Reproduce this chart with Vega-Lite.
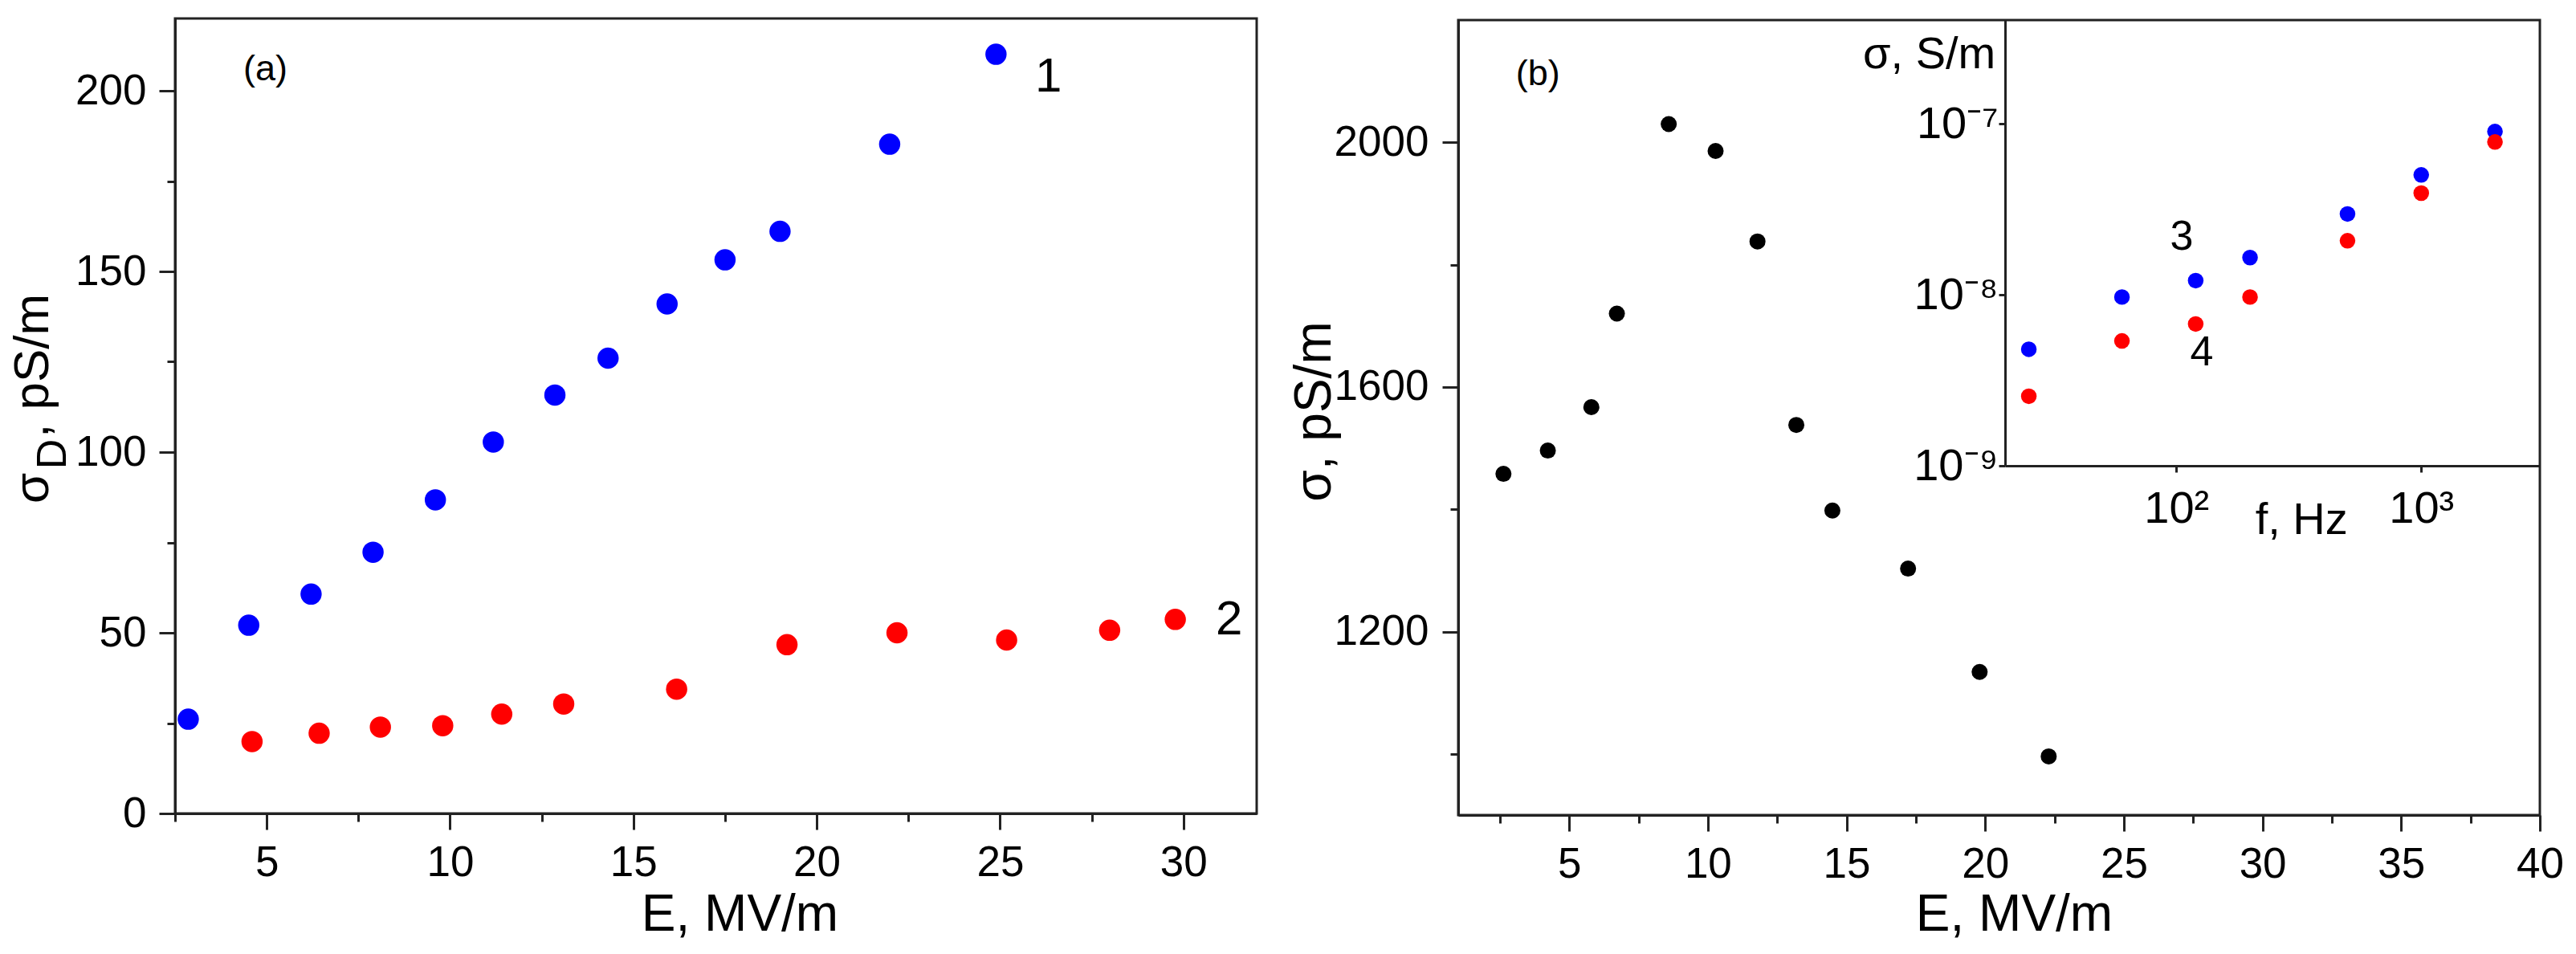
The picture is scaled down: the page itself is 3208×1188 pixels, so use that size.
{
  "$schema": "https://vega.github.io/schema/vega-lite/v6.json",
  "width": 3208,
  "height": 1188,
  "autosize": {"type": "none"},
  "padding": 0,
  "background": "white",
  "config": {
    "view": {"stroke": null},
    "axis": {"grid": false, "labelFont": "Liberation Sans", "titleFont": "Liberation Sans", "domainColor": "#222", "tickColor": "#222", "domainWidth": 3, "tickWidth": 3, "labelColor": "#000", "titleColor": "#000", "labelOverlap": false, "labelFlush": false, "titleFontWeight": "normal"},
    "text": {"font": "Liberation Sans", "color": "#000"}
  },
  "datasets": {
    "a_pts": [
      {"E": 2.86, "sigma": 26.1, "series": "1"},
      {"E": 4.51, "sigma": 52.1, "series": "1"},
      {"E": 6.21, "sigma": 60.7, "series": "1"},
      {"E": 7.90, "sigma": 72.3, "series": "1"},
      {"E": 9.60, "sigma": 86.8, "series": "1"},
      {"E": 11.18, "sigma": 102.8, "series": "1"},
      {"E": 12.86, "sigma": 115.8, "series": "1"},
      {"E": 14.31, "sigma": 126.0, "series": "1"},
      {"E": 15.92, "sigma": 141.0, "series": "1"},
      {"E": 17.50, "sigma": 153.2, "series": "1"},
      {"E": 19.00, "sigma": 161.1, "series": "1"},
      {"E": 21.99, "sigma": 185.2, "series": "1"},
      {"E": 24.89, "sigma": 210.1, "series": "1"},
      {"E": 4.60, "sigma": 19.9, "series": "2"},
      {"E": 6.43, "sigma": 22.2, "series": "2"},
      {"E": 8.10, "sigma": 23.9, "series": "2"},
      {"E": 9.80, "sigma": 24.3, "series": "2"},
      {"E": 11.41, "sigma": 27.5, "series": "2"},
      {"E": 13.10, "sigma": 30.3, "series": "2"},
      {"E": 16.18, "sigma": 34.4, "series": "2"},
      {"E": 19.19, "sigma": 46.7, "series": "2"},
      {"E": 22.19, "sigma": 50.0, "series": "2"},
      {"E": 25.18, "sigma": 48.0, "series": "2"},
      {"E": 27.99, "sigma": 50.7, "series": "2"},
      {"E": 29.78, "sigma": 53.7, "series": "2"}
    ],
    "a_frame": [{"x0": 2.5, "x1": 32, "y0": 0, "y1": 220}],
    "a_tag": [{"E": 4.36, "sigma": 202.9, "t": "(a)"}],
    "a_num": [{"E": 26.32, "sigma": 199.8, "t": "1"}, {"E": 31.25, "sigma": 49.6, "t": "2"}],
    "a_title_main": [{"E": -0.962, "sigma": 85.8, "t": "σ"}, {"E": -0.962, "sigma": 104.0, "t": ", pS/m"}],
    "a_title_sub": [{"E": -0.48, "sigma": 95.3, "t": "D"}],
    "b_pts": [
      {"E": 2.63, "sigma": 1458},
      {"E": 4.23, "sigma": 1496},
      {"E": 5.80, "sigma": 1567},
      {"E": 6.72, "sigma": 1720},
      {"E": 8.59, "sigma": 2030},
      {"E": 10.28, "sigma": 1986},
      {"E": 11.79, "sigma": 1838},
      {"E": 13.19, "sigma": 1538},
      {"E": 14.49, "sigma": 1398},
      {"E": 17.22, "sigma": 1303},
      {"E": 19.80, "sigma": 1134},
      {"E": 22.29, "sigma": 996}
    ],
    "b_frame": [{"x0": 1, "x1": 40, "y0": 900, "y1": 2200}],
    "b_tag": [{"E": 3.08, "sigma": 2093.7, "t": "(b)"}],
    "c_pts": [
      {"f": 25, "s": 4.8e-9, "series": "3"},
      {"f": 60, "s": 9.7e-9, "series": "3"},
      {"f": 120, "s": 1.21e-8, "series": "3"},
      {"f": 200, "s": 1.65e-8, "series": "3"},
      {"f": 500, "s": 2.97e-8, "series": "3"},
      {"f": 1000, "s": 5.02e-8, "series": "3"},
      {"f": 2000, "s": 9.0e-8, "series": "3"},
      {"f": 25, "s": 2.55e-9, "series": "4"},
      {"f": 60, "s": 5.37e-9, "series": "4"},
      {"f": 120, "s": 6.75e-9, "series": "4"},
      {"f": 200, "s": 9.7e-9, "series": "4"},
      {"f": 500, "s": 2.07e-8, "series": "4"},
      {"f": 1000, "s": 3.93e-8, "series": "4"},
      {"f": 2000, "s": 7.82e-8, "series": "4"}
    ],
    "c_num": [{"f": 105.3, "s": 1.83e-8, "t": "3"}, {"f": 127, "s": 3.87e-9, "t": "4"}],
    "c_ytitle": [{"f": 18.3, "s": 2.11e-7, "t": "σ, S/m"}],
    "c_xtitle": [{"f": 324.6, "s": 3.99e-10, "t": "f, Hz"}]
  },
  "layer": [
    {
      "layer": [
        {
          "data": {"name": "a_frame"},
          "mark": {"type": "rect", "filled": false, "stroke": "#222", "strokeWidth": 3},
          "encoding": {
            "x": {"field": "x0", "type": "quantitative", "scale": {"domain": [2.5, 32], "range": [218, 1565], "nice": false, "zero": false},
              "axis": {"orient": "bottom", "offset": -175, "values": [2.5, 5, 7.5, 10, 12.5, 15, 17.5, 20, 22.5, 25, 27.5, 30], "labelExpr": "datum.value % 5 === 0 ? format(datum.value, 'd') : ''", "tickSize": {"condition": {"test": "datum.value % 5 === 0", "value": 20}, "value": 10}, "labelFontSize": 53, "labelPadding": 15, "title": "E, MV/m", "titleFontSize": 64, "titleX": 921, "titleY": 145, "titleBaseline": "alphabetic", "titleAlign": "center", "titleAnchor": "middle"}},
            "x2": {"field": "x1"},
            "y": {"field": "y0", "type": "quantitative", "scale": {"domain": [0, 220], "range": [1013, 23], "nice": false, "zero": false},
              "axis": {"orient": "left", "offset": -218, "values": [0, 25, 50, 75, 100, 125, 150, 175, 200], "labelExpr": "datum.value % 50 === 0 ? format(datum.value, 'd') : ''", "tickSize": {"condition": {"test": "datum.value % 50 === 0", "value": 20}, "value": 10}, "labelFontSize": 53, "labelPadding": 16, "title": null}},
            "y2": {"field": "y1"}
          }
        },
        {
          "data": {"name": "a_pts"},
          "mark": {"type": "circle", "size": 700, "opacity": 1},
          "encoding": {
            "x": {"field": "E", "type": "quantitative", "scale": {"domain": [2.5, 32], "range": [218, 1565], "nice": false, "zero": false}},
            "y": {"field": "sigma", "type": "quantitative", "scale": {"domain": [0, 220], "range": [1013, 23], "nice": false, "zero": false}},
            "color": {"field": "series", "type": "nominal", "scale": {"domain": ["1", "2", "3", "4"], "range": ["#0000ff", "#ff0000", "#0000ff", "#ff0000"]}, "legend": null}
          }
        },
        {
          "data": {"name": "a_tag"},
          "mark": {"type": "text", "fontSize": 45, "align": "left", "baseline": "alphabetic"},
          "encoding": {
            "x": {"field": "E", "type": "quantitative", "scale": {"domain": [2.5, 32], "range": [218, 1565], "nice": false, "zero": false}},
            "y": {"field": "sigma", "type": "quantitative", "scale": {"domain": [0, 220], "range": [1013, 23], "nice": false, "zero": false}},
            "text": {"field": "t"}
          }
        },
        {
          "data": {"name": "a_num"},
          "mark": {"type": "text", "fontSize": 60, "align": "center", "baseline": "alphabetic"},
          "encoding": {
            "x": {"field": "E", "type": "quantitative", "scale": {"domain": [2.5, 32], "range": [218, 1565], "nice": false, "zero": false}},
            "y": {"field": "sigma", "type": "quantitative", "scale": {"domain": [0, 220], "range": [1013, 23], "nice": false, "zero": false}},
            "text": {"field": "t"}
          }
        },
        {
          "data": {"name": "a_title_main"},
          "mark": {"type": "text", "fontSize": 62, "align": "left", "baseline": "alphabetic", "angle": 270},
          "encoding": {
            "x": {"field": "E", "type": "quantitative", "scale": {"domain": [2.5, 32], "range": [218, 1565], "nice": false, "zero": false}},
            "y": {"field": "sigma", "type": "quantitative", "scale": {"domain": [0, 220], "range": [1013, 23], "nice": false, "zero": false}},
            "text": {"field": "t"}
          }
        },
        {
          "data": {"name": "a_title_sub"},
          "mark": {"type": "text", "fontSize": 52, "align": "left", "baseline": "alphabetic", "angle": 270},
          "encoding": {
            "x": {"field": "E", "type": "quantitative", "scale": {"domain": [2.5, 32], "range": [218, 1565], "nice": false, "zero": false}},
            "y": {"field": "sigma", "type": "quantitative", "scale": {"domain": [0, 220], "range": [1013, 23], "nice": false, "zero": false}},
            "text": {"field": "t"}
          }
        }
      ]
    },
    {
      "layer": [
        {
          "data": {"name": "b_frame"},
          "mark": {"type": "rect", "filled": false, "stroke": "#222", "strokeWidth": 3},
          "encoding": {
            "x": {"field": "x0", "type": "quantitative", "scale": {"domain": [1, 40], "range": [1816, 3163], "nice": false, "zero": false},
              "axis": {"orient": "bottom", "offset": -173, "values": [2.5, 5, 7.5, 10, 12.5, 15, 17.5, 20, 22.5, 25, 27.5, 30, 32.5, 35, 37.5, 40], "labelExpr": "datum.value % 5 === 0 ? format(datum.value, 'd') : ''", "tickSize": {"condition": {"test": "datum.value % 5 === 0", "value": 20}, "value": 10}, "labelFontSize": 53, "labelPadding": 15, "title": "E, MV/m", "titleFontSize": 64, "titleX": 2508, "titleY": 143, "titleBaseline": "alphabetic", "titleAlign": "center", "titleAnchor": "middle"}},
            "x2": {"field": "x1"},
            "y": {"field": "y0", "type": "quantitative", "scale": {"domain": [900, 2200], "range": [1015, 25], "nice": false, "zero": false},
              "axis": {"orient": "left", "offset": -1816, "values": [1000, 1200, 1400, 1600, 1800, 2000], "labelExpr": "datum.value % 400 === 0 ? format(datum.value, 'd') : ''", "tickSize": {"condition": {"test": "datum.value % 400 === 0", "value": 20}, "value": 10}, "labelFontSize": 53, "labelPadding": 17, "title": "σ,  pS/m", "titleFontSize": 64, "titleAngle": 270, "titleX": -160, "titleY": 512, "titleBaseline": "alphabetic", "titleAlign": "center", "titleAnchor": "middle"}},
            "y2": {"field": "y1"}
          }
        },
        {
          "data": {"name": "b_pts"},
          "mark": {"type": "circle", "size": 400, "opacity": 1, "color": "#000"},
          "encoding": {
            "x": {"field": "E", "type": "quantitative", "scale": {"domain": [1, 40], "range": [1816, 3163], "nice": false, "zero": false}},
            "y": {"field": "sigma", "type": "quantitative", "scale": {"domain": [900, 2200], "range": [1015, 25], "nice": false, "zero": false}}
          }
        },
        {
          "data": {"name": "b_tag"},
          "mark": {"type": "text", "fontSize": 45, "align": "left", "baseline": "alphabetic"},
          "encoding": {
            "x": {"field": "E", "type": "quantitative", "scale": {"domain": [1, 40], "range": [1816, 3163], "nice": false, "zero": false}},
            "y": {"field": "sigma", "type": "quantitative", "scale": {"domain": [900, 2200], "range": [1015, 25], "nice": false, "zero": false}},
            "text": {"field": "t"}
          }
        }
      ]
    },
    {
      "layer": [
        {
          "data": {"name": "c_pts"},
          "mark": {"type": "circle", "size": 380, "opacity": 1},
          "encoding": {
            "x": {"field": "f", "type": "quantitative", "scale": {"type": "log", "domain": [20, 3050], "range": [2497, 3163], "nice": false},
              "axis": {"orient": "bottom", "offset": -608, "values": [100, 1000], "labelExpr": "datum.value === 100 ? '10²' : '10³'", "tickSize": 8, "labelFontSize": 56, "labelPadding": 18, "title": null}},
            "y": {"field": "s", "type": "quantitative", "scale": {"type": "log", "domain": [1e-9, 4.04e-7], "range": [580, 25], "nice": false},
              "axis": {"orient": "left", "offset": -2497, "values": [1e-9, 1e-8, 1e-7], "labelExpr": "datum.value < 5e-9 ? '10⁻⁹' : (datum.value < 5e-8 ? '10⁻⁸' : '10⁻⁷')", "tickSize": 8, "labelFontSize": 56, "labelPadding": 1, "title": null}},
            "color": {"field": "series", "type": "nominal", "scale": {"domain": ["1", "2", "3", "4"], "range": ["#0000ff", "#ff0000", "#0000ff", "#ff0000"]}, "legend": null}
          }
        },
        {
          "data": {"name": "c_num"},
          "mark": {"type": "text", "fontSize": 52, "align": "center", "baseline": "alphabetic"},
          "encoding": {
            "x": {"field": "f", "type": "quantitative", "scale": {"type": "log", "domain": [20, 3050], "range": [2497, 3163], "nice": false}},
            "y": {"field": "s", "type": "quantitative", "scale": {"type": "log", "domain": [1e-9, 4.04e-7], "range": [580, 25], "nice": false}},
            "text": {"field": "t"}
          }
        },
        {
          "data": {"name": "c_ytitle"},
          "mark": {"type": "text", "fontSize": 56, "align": "right", "baseline": "alphabetic"},
          "encoding": {
            "x": {"field": "f", "type": "quantitative", "scale": {"type": "log", "domain": [20, 3050], "range": [2497, 3163], "nice": false}},
            "y": {"field": "s", "type": "quantitative", "scale": {"type": "log", "domain": [1e-9, 4.04e-7], "range": [580, 25], "nice": false}},
            "text": {"field": "t"}
          }
        },
        {
          "data": {"name": "c_xtitle"},
          "mark": {"type": "text", "fontSize": 56, "align": "center", "baseline": "alphabetic"},
          "encoding": {
            "x": {"field": "f", "type": "quantitative", "scale": {"type": "log", "domain": [20, 3050], "range": [2497, 3163], "nice": false}},
            "y": {"field": "s", "type": "quantitative", "scale": {"type": "log", "domain": [1e-9, 4.04e-7], "range": [580, 25], "nice": false}},
            "text": {"field": "t"}
          }
        }
      ]
    }
  ],
  "resolve": {"scale": {"x": "independent", "y": "independent"}, "axis": {"x": "independent", "y": "independent"}}
}
